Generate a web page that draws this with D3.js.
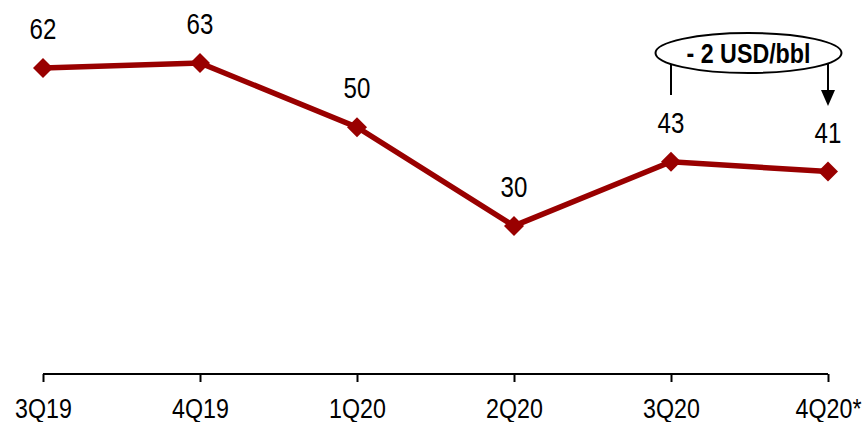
<!DOCTYPE html>
<html><head><meta charset="utf-8">
<script src="https://cdn.jsdelivr.net/npm/d3@7"></script>
<style>
html,body{margin:0;padding:0;background:#fff;}
svg{display:block;}
text{font-family:"Liberation Sans Narrow","Arial Narrow","Liberation Sans",Arial,sans-serif;}
</style></head>
<body>
<svg id="chart" width="864" height="422"></svg>
<script>
const categories = ["3Q19","4Q19","1Q20","2Q20","3Q20","4Q20*"];
const values = [62, 63, 50, 30, 43, 41];
const annotationText = "- 2 USD/bbl";

const SX = 0.83;
const FONT = '"Liberation Sans",Arial,sans-serif';
const svg = d3.select("#chart");
const x = d3.scalePoint().domain(categories).range([43, 828]);
const y = d3.scaleLinear().domain([0, 63]).range([374, 63]);

// x axis
const axis = svg.append("g").attr("transform", `translate(0,${y(0)})`)
  .call(d3.axisBottom(x).tickSize(8).tickSizeOuter(0));
axis.select(".domain").attr("stroke", "#000").attr("stroke-width", 2)
  .attr("d", `M${x(categories[0])},0H${x(categories[categories.length-1])}`);
axis.selectAll(".tick line").attr("stroke", "#000").attr("stroke-width", 2);
axis.selectAll(".tick text").attr("y", 44).attr("dy", 0)
  .attr("transform", `scale(${SX},1)`)
  .attr("font-size", 28).attr("fill", "#000").style("font-family", FONT);

const data = categories.map((c, i) => ({c, v: values[i]}));
const color = "#990000";

svg.append("path").datum(data)
  .attr("fill", "none").attr("stroke", color).attr("stroke-width", 5.5)
  .attr("d", d3.line().x(d => x(d.c)).y(d => y(d.v)));

svg.selectAll(".mk").data(data).enter().append("path")
  .attr("class", "mk")
  .attr("transform", d => `translate(${x(d.c)},${y(d.v)}) rotate(45)`)
  .attr("d", d3.symbol().type(d3.symbolSquare).size(200))
  .attr("fill", color);

svg.selectAll(".lbl").data(data).enter().append("g")
  .attr("class", "lbl")
  .attr("transform", d => `translate(${x(d.c)},${y(d.v) - 29})`)
  .append("text")
  .attr("transform", `scale(${SX},1)`)
  .attr("text-anchor", "middle")
  .attr("font-size", 29)
  .attr("fill", "#000")
  .style("font-family", FONT)
  .text(d => d.v);

// annotation
const x1 = x(categories[4]), x2 = x(categories[5]);
const cx = 748.5, cy = 53, rx = 93, ry = 20;
svg.append("ellipse").attr("cx", cx).attr("cy", cy).attr("rx", rx).attr("ry", ry)
  .attr("fill", "#fff").attr("stroke", "#000").attr("stroke-width", 2);
svg.append("g").attr("transform", `translate(${cx},${cy + 10})`)
  .append("text").attr("transform", `scale(${SX},1)`).attr("text-anchor", "middle")
  .attr("font-size", 28).attr("font-weight", "bold").attr("fill", "#000")
  .style("font-family", FONT).text(annotationText);
const yl = cy + ry*Math.sqrt(1 - Math.pow((x1-cx)/rx,2));
svg.append("line").attr("x1", x1).attr("x2", x1).attr("y1", yl).attr("y2", 95)
  .attr("stroke", "#000").attr("stroke-width", 2);
const ye = cy + ry*Math.sqrt(1 - Math.pow((x2-cx)/rx,2));
svg.append("line").attr("x1", x2).attr("x2", x2).attr("y1", ye).attr("y2", 92)
  .attr("stroke", "#000").attr("stroke-width", 2);
svg.append("path").attr("d", `M${x2-7},90L${x2+7},90L${x2},106Z`).attr("fill", "#000");
</script>
</body></html>
